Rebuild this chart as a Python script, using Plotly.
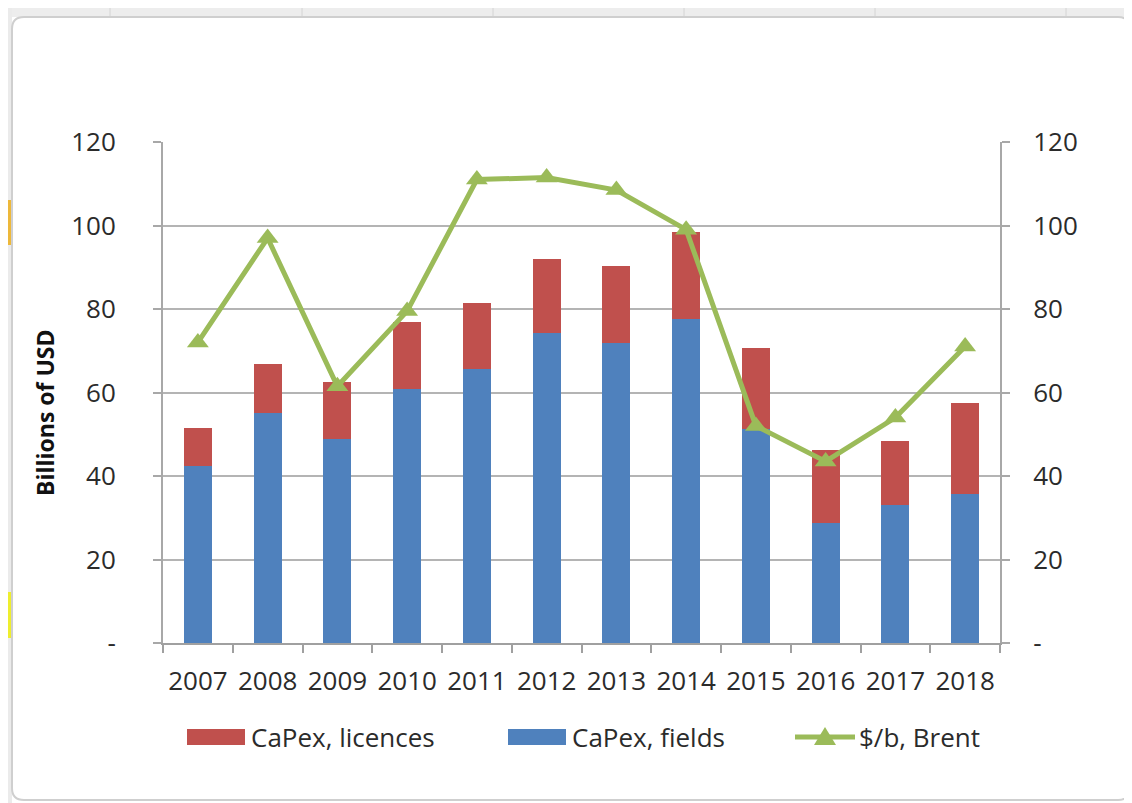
import plotly.graph_objects as go

years = ["2007", "2008", "2009", "2010", "2011", "2012", "2013", "2014", "2015", "2016", "2017", "2018"]
capex_fields = [42.3, 55.2, 48.9, 60.8, 65.6, 74.3, 71.9, 77.6, 51.2, 28.7, 33.1, 35.6]
capex_licences = [9.3, 11.7, 13.7, 16.0, 15.9, 17.7, 18.4, 20.8, 19.5, 17.5, 15.2, 21.9]
brent = [72.0, 97.0, 61.5, 79.5, 111.0, 111.5, 108.5, 99.0, 52.0, 43.5, 54.0, 71.0]
ytick_vals = [0, 20, 40, 60, 80, 100, 120]
ytick_text = ["-", "20", "40", "60", "80", "100", "120"]

BLUE = "#4F81BD"
RED = "#C0504D"
GREEN = "#9BBB59"
TXT = "#2B2B2B"
FONT = "Open Sans"

# page has an 8px body margin; compensate so the picture lands where the reference is
OFF = 8
W, H = 1124, 795
PLOT_X0, PLOT_X1, PLOT_Y0, PLOT_Y1 = 163, 1000, 142, 643   # reference pixels
L = PLOT_X0 - OFF
T = PLOT_Y0 - OFF
PW = PLOT_X1 - PLOT_X0
PH = PLOT_Y1 - PLOT_Y0
R = W - L - PW
B = H - T - PH


def px(x):
    return (x - OFF - L) / PW


def py(y):
    return (PLOT_Y1 - y) / PH


fig = go.Figure()
fig.add_trace(go.Bar(x=years, y=capex_fields, name="CaPex, fields", marker_color=BLUE,
                     marker_line_width=0, yaxis="y"))
fig.add_trace(go.Bar(x=years, y=capex_licences, name="CaPex, licences", marker_color=RED,
                     marker_line_width=0, yaxis="y"))
fig.add_trace(go.Scatter(x=years, y=brent, name="$/b, Brent", mode="lines+markers",
                         line=dict(color=GREEN, width=5),
                         marker=dict(symbol="triangle-up", size=19, color=GREEN),
                         yaxis="y2"))

shapes = []
# screenshot surroundings
shapes.append(dict(type="rect", xref="paper", yref="paper", x0=px(0), x1=px(1140), y0=py(6), y1=py(17),
                   fillcolor="#EDEDED", line_width=0, layer="below"))
for xv in [110, 302, 493, 684, 875, 1066]:
    shapes.append(dict(type="line", xref="paper", yref="paper", x0=px(xv), x1=px(xv), y0=py(6), y1=py(17),
                       line=dict(color="#D4D4D4", width=1), layer="below"))
shapes.append(dict(type="rect", xref="paper", yref="paper", x0=px(5), x1=px(12), y0=py(6), y1=py(810),
                   fillcolor="#EBEBEB", line_width=0, layer="below"))
shapes.append(dict(type="rect", xref="paper", yref="paper", x0=px(6), x1=px(12), y0=py(200), y1=py(245),
                   fillcolor="#EDB83A", line_width=0, layer="below"))
shapes.append(dict(type="rect", xref="paper", yref="paper", x0=px(6), x1=px(12), y0=py(592), y1=py(638),
                   fillcolor="#EEEE2E", line_width=0, layer="below"))
# chart border (rounded)
x0b, x1b, y0b, y1b, r = 12, 1130, 17, 800, 12
path = (f"M {px(x0b + r)},{py(y0b)} L {px(x1b - r)},{py(y0b)} "
        f"Q {px(x1b)},{py(y0b)} {px(x1b)},{py(y0b + r)} L {px(x1b)},{py(y1b - r)} "
        f"Q {px(x1b)},{py(y1b)} {px(x1b - r)},{py(y1b)} L {px(x0b + r)},{py(y1b)} "
        f"Q {px(x0b)},{py(y1b)} {px(x0b)},{py(y1b - r)} L {px(x0b)},{py(y0b + r)} "
        f"Q {px(x0b)},{py(y0b)} {px(x0b + r)},{py(y0b)} Z")
shapes.append(dict(type="path", xref="paper", yref="paper", path=path,
                   line=dict(color="#CFCFCF", width=2), fillcolor="rgba(0,0,0,0)", layer="below"))

# custom legend
ly = 737
shapes.append(dict(type="rect", xref="paper", yref="paper", x0=px(187), x1=px(245), y0=py(ly - 8), y1=py(ly + 8),
                   fillcolor=RED, line_width=0))
shapes.append(dict(type="rect", xref="paper", yref="paper", x0=px(508), x1=px(566), y0=py(ly - 8), y1=py(ly + 8),
                   fillcolor=BLUE, line_width=0))
shapes.append(dict(type="line", xref="paper", yref="paper", x0=px(795), x1=px(855), y0=py(ly), y1=py(ly),
                   line=dict(color=GREEN, width=5)))
tcx = 825
tri = f"M {px(tcx - 11)},{py(ly + 8)} L {px(tcx + 11)},{py(ly + 8)} L {px(tcx)},{py(ly - 10)} Z"
shapes.append(dict(type="path", xref="paper", yref="paper", path=tri, fillcolor=GREEN, line_width=0))

annotations = [
    dict(text="CaPex, licences", x=px(249), y=py(ly), xref="paper", yref="paper", xanchor="left",
         yanchor="middle", showarrow=False, font=dict(family=FONT, size=26, color=TXT)),
    dict(text="CaPex, fields", x=px(570), y=py(ly), xref="paper", yref="paper", xanchor="left",
         yanchor="middle", showarrow=False, font=dict(family=FONT, size=26, color=TXT)),
    dict(text="$/b, Brent", x=px(857), y=py(ly), xref="paper", yref="paper", xanchor="left",
         yanchor="middle", showarrow=False, font=dict(family=FONT, size=26, color=TXT)),
    dict(text="<b>Billions of USD</b>", x=px(45), y=py(413), xref="paper", yref="paper",
         xanchor="center", yanchor="middle", textangle=-90, showarrow=False,
         font=dict(family=FONT, size=23, color="#111111")),
]

fig.update_layout(
    width=W, height=H,
    margin=dict(l=L, r=R, t=T, b=B, pad=0, autoexpand=False),
    paper_bgcolor="white", plot_bgcolor="white",
    barmode="stack", bargap=0.6,
    showlegend=False,
    shapes=shapes, annotations=annotations,
    font=dict(family=FONT, size=26, color=TXT),
    xaxis=dict(type="category", range=[-0.5, len(years) - 0.5], showline=True, linecolor="#A0A0A0", linewidth=2,
               ticks="outside", tickson="boundaries", ticklen=8, tickcolor="#A0A0A0", tickwidth=2,
               showgrid=False, tickangle=0, tickfont=dict(family=FONT, size=26, color=TXT),
               ticklabelstandoff=14),
    yaxis=dict(range=[0, 120], tickvals=ytick_vals, ticktext=ytick_text,
               showline=True, linecolor="#A8A8A8", linewidth=2,
               ticks="outside", ticklen=8, tickcolor="#A8A8A8", tickwidth=2,
               showgrid=True, gridcolor="#B4B4B4", gridwidth=2, zeroline=False,
               tickfont=dict(family=FONT, size=26, color=TXT), ticklabelstandoff=32),
    yaxis2=dict(range=[0, 120], tickvals=ytick_vals, ticktext=ytick_text, overlaying="y", side="right",
                showline=True, linecolor="#A8A8A8", linewidth=2,
                ticks="outside", ticklen=8, tickcolor="#A8A8A8", tickwidth=2,
                showgrid=False, zeroline=False,
                tickfont=dict(family=FONT, size=26, color=TXT), ticklabelstandoff=18),
)

fig.write_html("out.html")
